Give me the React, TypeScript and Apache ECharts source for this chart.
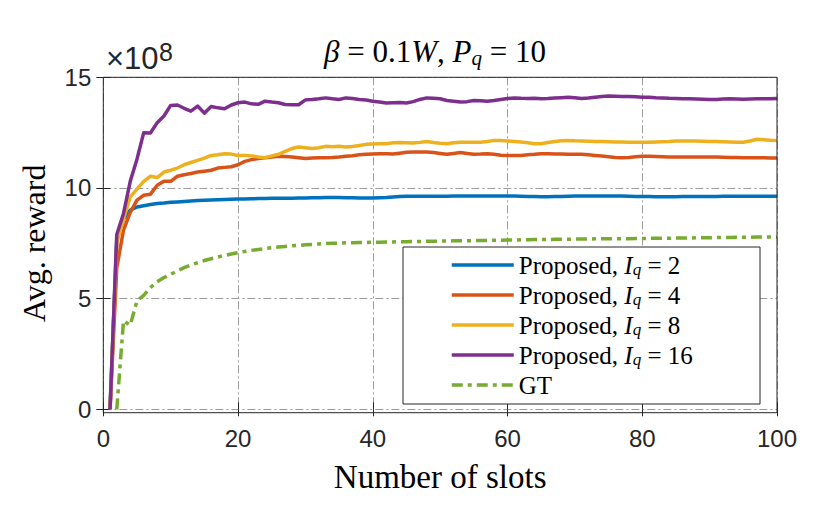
import React, { useEffect, useRef } from "react";
import * as echarts from "echarts";

const SLOTS: number[] = Array.from({ length: 100 }, (_, i) => i + 1);

const X_TICKS = [0, 20, 40, 60, 80, 100];
const Y_TICKS = [0, 5, 10, 15];

const SERIES_NAMES = [
  "Proposed, I_q = 2",
  "Proposed, I_q = 4",
  "Proposed, I_q = 8",
  "Proposed, I_q = 16",
  "GT",
];

// values in units of 1e8, slot 1..100
const IQ2 = [
  0, 7.7, 8.6, 9.0, 9.14, 9.2, 9.25, 9.3, 9.32, 9.35,
  9.37, 9.39, 9.41, 9.43, 9.45, 9.46, 9.47, 9.48, 9.49, 9.5,
  9.5, 9.51, 9.52, 9.52, 9.53, 9.53, 9.54, 9.54, 9.55, 9.55,
  9.56, 9.56, 9.57, 9.57, 9.57, 9.56, 9.56, 9.55, 9.55, 9.55,
  9.56, 9.57, 9.59, 9.61, 9.63, 9.63, 9.63, 9.63, 9.63, 9.63,
  9.63, 9.64, 9.64, 9.64, 9.64, 9.64, 9.64, 9.64, 9.64, 9.64,
  9.64, 9.63, 9.62, 9.61, 9.6, 9.6, 9.61, 9.62, 9.63, 9.64,
  9.64, 9.64, 9.64, 9.64, 9.64, 9.64, 9.64, 9.63, 9.62, 9.62,
  9.61, 9.6, 9.6, 9.6, 9.6, 9.61, 9.61, 9.62, 9.62, 9.62,
  9.62, 9.63, 9.63, 9.63, 9.63, 9.63, 9.63, 9.63, 9.63, 9.63,
];

const IQ4 = [
  0, 6.4, 8.1, 8.9, 9.45, 9.67, 9.72, 10.12, 10.3, 10.3,
  10.53, 10.6, 10.65, 10.72, 10.76, 10.8, 10.9, 10.93, 10.96, 11.05,
  11.2, 11.28, 11.33, 11.37, 11.4, 11.43, 11.42, 11.4, 11.37, 11.33,
  11.35, 11.37, 11.37, 11.38, 11.4, 11.43, 11.46, 11.5, 11.52, 11.54,
  11.55, 11.55, 11.53, 11.57, 11.61, 11.62, 11.62, 11.62, 11.6, 11.56,
  11.52, 11.56, 11.6, 11.56, 11.52, 11.53, 11.55, 11.52, 11.48, 11.47,
  11.47, 11.47, 11.5, 11.52, 11.55, 11.55, 11.54, 11.53, 11.52, 11.52,
  11.52, 11.5, 11.47, 11.44, 11.41, 11.38, 11.37, 11.38, 11.41, 11.43,
  11.43, 11.42, 11.41, 11.4, 11.4, 11.4, 11.4, 11.4, 11.4, 11.4,
  11.4, 11.39, 11.38, 11.38, 11.37, 11.37, 11.36, 11.36, 11.35, 11.35,
];

const IQ8 = [
  0, 7.5, 8.6, 9.6, 9.95, 10.3, 10.53, 10.47, 10.72, 10.8,
  10.9, 11.05, 11.15, 11.25, 11.35, 11.47, 11.5, 11.55, 11.53, 11.47,
  11.47, 11.45, 11.4, 11.37, 11.45, 11.52, 11.65, 11.78, 11.85, 11.82,
  11.78, 11.82, 11.88, 11.86, 11.88, 11.85, 11.87, 11.92, 11.97, 11.99,
  12.0, 12.0, 12.04, 12.05, 12.04, 12.03, 12.06, 12.1, 12.05, 12.02,
  12.0, 12.04, 12.07, 12.07, 12.06, 12.07, 12.1, 12.15, 12.14, 12.12,
  12.1, 12.08, 12.04, 12.0, 12.0, 12.05, 12.1, 12.13, 12.15, 12.13,
  12.12, 12.11, 12.1, 12.1, 12.09, 12.08, 12.08, 12.07, 12.07, 12.07,
  12.07, 12.08, 12.09, 12.1, 12.12, 12.12, 12.12, 12.12, 12.11, 12.1,
  12.1, 12.09, 12.08, 12.07, 12.07, 12.12, 12.2, 12.18, 12.16, 12.15,
];

const IQ16 = [
  0, 7.9, 8.85, 10.3, 11.3, 12.5, 12.48, 12.95, 13.25, 13.73,
  13.75, 13.6, 13.47, 13.7, 13.38, 13.68, 13.62, 13.58, 13.75, 13.85,
  13.88, 13.8, 13.78, 13.92, 13.88, 13.85, 13.77, 13.76, 13.76, 13.98,
  14.0, 14.03, 14.07, 14.03, 14.0, 14.07, 14.04, 14.0, 13.97, 13.92,
  13.88, 13.84, 13.85, 13.86, 13.84, 13.9, 14.0, 14.07, 14.05, 14.03,
  13.95, 13.92, 13.88, 13.9, 13.95, 13.94, 13.92, 13.95, 14.0, 14.04,
  14.07, 14.05, 14.04, 14.05, 14.03, 14.04, 14.06, 14.08, 14.1, 14.08,
  14.04, 14.06, 14.1, 14.13, 14.15, 14.14, 14.13, 14.13, 14.12, 14.1,
  14.1, 14.08, 14.07, 14.05, 14.04, 14.03, 14.03, 14.02, 14.01, 14.0,
  14.0, 14.02, 14.03, 14.02, 14.01, 14.02, 14.03, 14.03, 14.03, 14.04,
];

const GT = [
  null, 0, 4.0, 3.8, 4.9, 5.15, 5.5, 5.76, 5.95, 6.1,
  6.25, 6.4, 6.52, 6.62, 6.72, 6.8, 6.88, 6.95, 7.02, 7.08,
  7.13, 7.18, 7.22, 7.26, 7.3, 7.33, 7.36, 7.39, 7.41, 7.43,
  7.45, 7.47, 7.49, 7.5, 7.51, 7.52, 7.53, 7.54, 7.54, 7.55,
  7.55, 7.56, 7.56, 7.57, 7.57, 7.58, 7.58, 7.59, 7.59, 7.6,
  7.6, 7.61, 7.61, 7.62, 7.62, 7.63, 7.63, 7.64, 7.64, 7.65,
  7.65, 7.66, 7.66, 7.67, 7.67, 7.67, 7.68, 7.68, 7.68, 7.69,
  7.69, 7.69, 7.7, 7.7, 7.7, 7.71, 7.71, 7.71, 7.72, 7.72,
  7.72, 7.73, 7.73, 7.73, 7.74, 7.74, 7.74, 7.75, 7.75, 7.75,
  7.76, 7.76, 7.76, 7.77, 7.77, 7.77, 7.78, 7.78, 7.78, 7.79,
];

const COLORS = ["#0072BD", "#D95319", "#EDB120", "#7E2F8E", "#77AC30"];

const SERIF = "'Liberation Serif', 'Times New Roman', serif";
const SANS = "'Liberation Sans', Arial, Helvetica, sans-serif";
const AX = "#262626";

function pairs(vals: (number | null)[]) {
  const out: [number, number][] = [];
  vals.forEach((v, i) => {
    if (v !== null) out.push([SLOTS[i], v]);
  });
  return out;
}

export default function App() {
  const ref = useRef<HTMLDivElement>(null);

  useEffect(() => {
    if (!ref.current) return;
    const chart = echarts.init(ref.current, undefined, { renderer: "svg" });

    const G = { left: 103.3, top: 77.3, right: 777, bottom: 409.3 };
    const boxBottom = 412.7;

    const allData = [IQ2, IQ4, IQ8, IQ16, GT];

    const series = allData.map((d, k) => ({
      name: SERIES_NAMES[k],
      type: "line",
      data: pairs(d as (number | null)[]),
      showSymbol: false,
      symbol: "none",
      xAxisIndex: 0,
      yAxisIndex: 0,
      z: 2,
      lineStyle: {
        color: COLORS[k],
        width: 3.5,
        type: k === 4 ? [11, 5, 4, 5] : "solid",
        cap: "butt",
        join: "round",
      },
      itemStyle: { color: COLORS[k] },
    }));

    const gridSplit = {
      show: true,
      lineStyle: { color: "#9b9b9b", width: 1, type: [8, 3, 2, 3] },
    };

    const option: any = {
      animation: false,
      backgroundColor: "#ffffff",
      title: {
        text: "{i|β} = 0.1{i|W}, {i|P}{s|q} = 10",
        left: 435,
        top: 34,
        textAlign: "center",
        padding: 0,
        textStyle: {
          fontFamily: SERIF,
          fontSize: 31,
          fontWeight: "normal",
          color: "#000",
          lineHeight: 34,
          rich: {
            i: { fontFamily: SERIF, fontSize: 31, fontStyle: "italic", lineHeight: 34, color: "#000" },
            s: {
              fontFamily: SERIF,
              fontSize: 21,
              fontStyle: "italic",
              lineHeight: 18,
              verticalAlign: "bottom",
              color: "#000",
            },
          },
        },
      },
      grid: {
        left: G.left,
        top: G.top,
        right: 830 - G.right,
        bottom: 523 - G.bottom,
        containLabel: false,
      },
      legend: {
        orient: "vertical",
        left: 450,
        top: 252,
        padding: 0,
        itemWidth: 62,
        itemHeight: 14,
        itemGap: 4,
        z: 6,
        selectedMode: false,
        data: SERIES_NAMES,
        lineStyle: { width: 3.5 },
        itemStyle: { opacity: 0, color: "rgba(0,0,0,0)", borderWidth: 0, borderColor: "rgba(0,0,0,0)" },
        formatter: (name: string) => {
          if (name.startsWith("Proposed")) {
            const v = name.split("= ")[1];
            return `Proposed, {i|I}{s|q} = ${v}`;
          }
          return name;
        },
        textStyle: {
          fontFamily: SERIF,
          fontSize: 25,
          color: "#000",
          lineHeight: 26,
          rich: {
            i: { fontFamily: SERIF, fontSize: 25, fontStyle: "italic", lineHeight: 26, color: "#000" },
            s: {
              fontFamily: SERIF,
              fontSize: 17,
              fontStyle: "italic",
              lineHeight: 14,
              verticalAlign: "bottom",
              color: "#000",
            },
          },
        },
      },
      xAxis: [
        {
          type: "value",
          min: X_TICKS[0],
          max: X_TICKS[X_TICKS.length - 1],
          interval: 20,
          position: "bottom",
          offset: boxBottom - G.bottom,
          name: "Number of slots",
          nameLocation: "middle",
          nameGap: 48,
          nameTextStyle: { fontFamily: SERIF, fontSize: 33, color: "#000" },
          axisLine: { show: false },
          axisTick: { show: true, inside: true, length: 7, lineStyle: { color: AX, width: 1 } },
          axisLabel: {
            show: true,
            margin: 14,
            fontFamily: SANS,
            fontSize: 24,
            color: AX,
            showMinLabel: true,
            showMaxLabel: true,
          },
          splitLine: gridSplit,
        },
        {
          type: "value",
          min: X_TICKS[0],
          max: X_TICKS[X_TICKS.length - 1],
          interval: 20,
          position: "top",
          axisLine: { show: false },
          axisTick: { show: true, inside: true, length: 7, lineStyle: { color: AX, width: 1 } },
          axisLabel: { show: false },
          splitLine: { show: false },
        },
      ],
      yAxis: [
        {
          type: "value",
          min: Y_TICKS[0],
          max: Y_TICKS[Y_TICKS.length - 1],
          interval: 5,
          position: "left",
          name: "Avg. reward",
          nameLocation: "middle",
          nameGap: 53,
          nameTextStyle: { fontFamily: SERIF, fontSize: 32, color: "#000" },
          axisLine: { show: false },
          axisTick: { show: true, inside: true, length: 7, lineStyle: { color: AX, width: 1 } },
          axisLabel: {
            show: true,
            margin: 12,
            fontFamily: SANS,
            fontSize: 24,
            color: AX,
          },
          splitLine: gridSplit,
        },
        {
          type: "value",
          min: Y_TICKS[0],
          max: Y_TICKS[Y_TICKS.length - 1],
          interval: 5,
          position: "right",
          axisLine: { show: false },
          axisTick: { show: true, inside: true, length: 7, lineStyle: { color: AX, width: 1 } },
          axisLabel: { show: false },
          splitLine: { show: false },
        },
      ],
      graphic: [
        {
          type: "rect",
          z: 3,
          silent: true,
          shape: { x: 403, y: 247, width: 357, height: 157 },
          style: { fill: "#ffffff", stroke: AX, lineWidth: 1 },
        },
        {
          type: "rect",
          z: 5,
          silent: true,
          shape: { x: G.left, y: G.top, width: G.right - G.left, height: boxBottom - G.top },
          style: { fill: "none", stroke: AX, lineWidth: 1 },
        },
        {
          type: "text",
          z: 5,
          x: 106,
          y: 74,
          style: {
            text: "×10",
            fontFamily: SANS,
            fontSize: 31,
            fill: AX,
            verticalAlign: "bottom",
          },
        },
        {
          type: "text",
          z: 5,
          x: 159,
          y: 64,
          style: {
            text: "8",
            fontFamily: SANS,
            fontSize: 25,
            fill: AX,
            verticalAlign: "bottom",
          },
        },
      ],
      series,
    };

    chart.setOption(option);
    return () => chart.dispose();
  }, []);

  return (
    <div
      ref={ref}
      style={{ position: "fixed", left: 0, top: 0, width: 830, height: 523, background: "#fff" }}
    />
  );
}
